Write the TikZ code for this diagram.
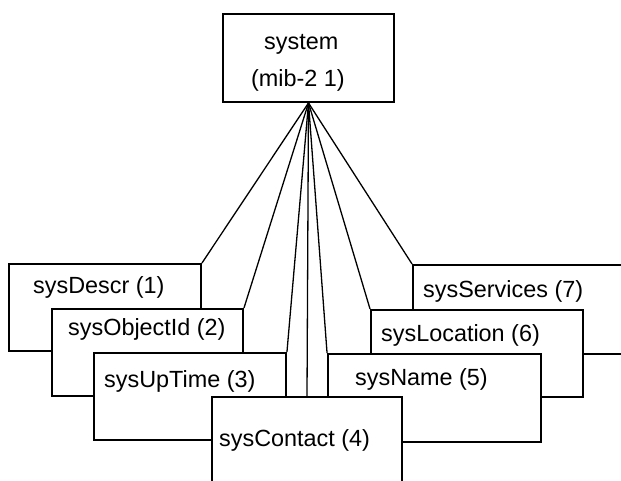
\documentclass[tikz,border=0pt]{standalone}
\usepackage{fontspec}
\setmainfont{Liberation Sans}
\begin{document}
\begin{tikzpicture}[x=1pt,y=-1pt,
  box/.style={draw,fill=white,rectangle,inner sep=0pt,line width=1.9pt},
  lbl/.style={anchor=base west,inner sep=0pt,font=\fontsize{23.4}{27}\selectfont},
  link/.style={line width=1.3pt}]
\useasboundingbox (0,0) rectangle (621,481);
\clip (0,0) rectangle (621,481);
% top box
\node[box,minimum width=171pt,minimum height=88pt] (top) at (308.5,58) {};
\node[lbl] (ttop1) at (264,50) {system};
\node[lbl] (ttop2) at (251,87) {(mib-2 1)};
% boxes
\node[box,minimum width=192pt,minimum height=87pt] (b1) at (105,307.5) {};
\node[box,minimum width=212pt,minimum height=89pt] (b7) at (519,309.5) {};
\draw[link] (top.south) -- (b1.north east);
\draw[link] (top.south) -- (b7.north west);
\node[box,minimum width=191pt,minimum height=87pt] (b2) at (147.5,352.5) {};
\node[box,minimum width=212pt,minimum height=87pt] (b6) at (477,353.5) {};
\draw[link] (top.south) -- (b2.north east);
\draw[link] (top.south) -- (b6.north west);
\node[box,minimum width=192pt,minimum height=87pt] (b3) at (190,396.5) {};
\node[box,minimum width=213pt,minimum height=88pt] (b5) at (434.5,398) {};
\draw[link] (top.south) -- (b3.north east);
\draw[link] (top.south) -- (b5.north west);
\node[box,minimum width=190pt,minimum height=87pt] (b4) at (307,440.5) {};
\draw[link] (top.south) -- (b4.north);
% labels
\node[lbl] (t1) at (33,293) {sysDescr (1)};
\node[lbl] (t7) at (423,297) {sysServices (7)};
\node[lbl] (t2) at (68,335) {sysObjectId (2)};
\node[lbl] (t6) at (381,341) {sysLocation (6)};
\node[lbl] (t3) at (104,387) {sysUpTime (3)};
\node[lbl] (t5) at (355,385) {sysName (5)};
\node[lbl] (t4) at (219,446) {sysContact (4)};
\end{tikzpicture}
\end{document}
